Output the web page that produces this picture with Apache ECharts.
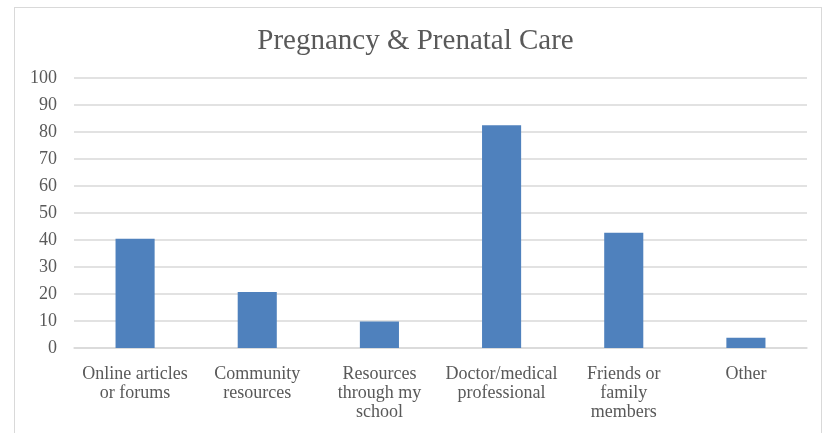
<!DOCTYPE html>
<html>
<head>
<meta charset="utf-8">
<script src="https://cdn.jsdelivr.net/npm/echarts@6/dist/echarts.min.js"></script>
<style>
  html,body{margin:0;padding:0;background:#fff;}
  #frame{position:absolute;left:14px;top:7px;width:808px;height:440px;border:1px solid #d9d9d9;box-sizing:border-box;}
  #chart{position:absolute;left:0;top:0;width:831px;height:433px;}
</style>
</head>
<body>
<div id="frame"></div>
<div id="chart"></div>
<script>
const categories=['Online articles\nor forums','Community\nresources','Resources\nthrough my\nschool','Doctor/medical\nprofessional','Friends or\nfamily\nmembers','Other'];
const values=[40.5,20.7,9.8,82.5,42.7,3.8];
const yTicks={min:0,max:100,interval:10};

const font='"Liberation Serif", "DejaVu Serif", serif';
const chart=echarts.init(document.getElementById('chart'),null,{renderer:'canvas'});
chart.setOption({
    backgroundColor:'transparent',
    animation:false,
    title:{text:'Pregnancy & Prenatal Care',left:'center',top:22,textStyle:{fontFamily:font,fontSize:29,fontWeight:'normal',color:'#595959'}},
    grid:{left:74,right:24,top:78,bottom:85},
    xAxis:{type:'category',data:categories,
        axisLine:{show:true,lineStyle:{color:'#d9d9d9',width:1.5}},
        axisTick:{show:false},
        axisLabel:{color:'#595959',fontFamily:font,fontSize:18,lineHeight:19,margin:17,interval:0}},
    yAxis:{type:'value',min:yTicks.min,max:yTicks.max,interval:yTicks.interval,
        axisLine:{show:false},axisTick:{show:false},
        axisLabel:{color:'#595959',fontFamily:font,fontSize:18,margin:17},
        splitLine:{lineStyle:{color:'#d9d9d9',width:1.5}}},
    series:[{type:'bar',data:values,barWidth:'32%',itemStyle:{color:'#4f81bd'}}]
});
</script>
</body>
</html>
